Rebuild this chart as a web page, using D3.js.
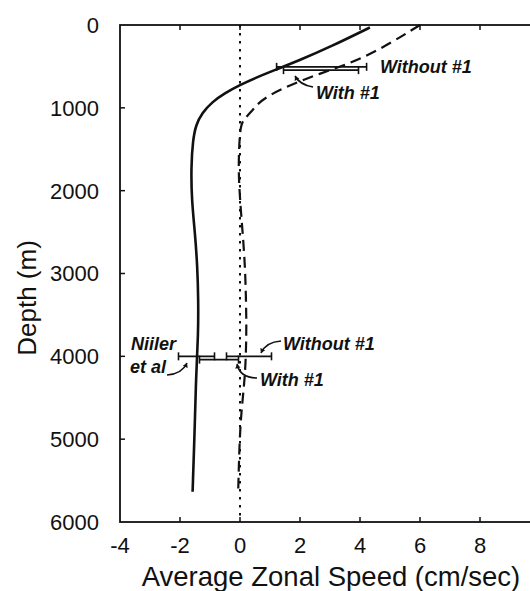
<!DOCTYPE html>
<html>
<head>
<meta charset="utf-8">
<script src="https://cdn.jsdelivr.net/npm/d3@7"></script>
<style>
  html, body { margin: 0; padding: 0; background: #fff; }
  svg { display: block; }
  text { font-family: "Liberation Sans", Arial, sans-serif; fill: #111; }
</style>
</head>
<body>
<svg id="chart" width="530" height="591"></svg>
<script>
// Depth profiles of average zonal speed
const depthWith = [30, 266, 423, 543, 640, 724, 821, 930, 1063, 1207, 1388, 1714, 2113, 2511, 2918, 3320, 3718, 4286, 4769, 5634];
const speedWith = [4.33, 3.0, 2.0, 1.17, 0.5, 0.0, -0.5, -0.93, -1.27, -1.47, -1.57, -1.63, -1.61, -1.5, -1.42, -1.39, -1.39, -1.47, -1.5, -1.58];

const depthWithout = [0, 423, 604, 866, 1026, 1147, 1228, 1711, 2113, 2511, 2918, 3320, 3718, 4286, 4769, 5634];
const speedWithout = [6.0, 4.1, 2.44, 0.78, 0.43, 0.11, 0.0, -0.06, 0.0, 0.09, 0.17, 0.2, 0.22, 0.17, 0.0, -0.06];

// Observed mean ranges (error bars)
const barNames = ["Without #1 (upper)", "With #1 (upper)", "Niiler et al", "Without #1 (deep)", "With #1 (deep)"];
const barDepth = [505, 545, 4000, 4000, 4040];
const barLow   = [1.22, 1.45, -2.05, -0.45, -1.35];
const barHigh  = [4.22, 3.95, -0.85, 1.05, -0.05];

const xTicks = [-4, -2, 0, 2, 4, 6, 8];
const yTicks = [0, 1000, 2000, 3000, 4000, 5000, 6000];

const svg = d3.select("#chart");
const x = d3.scaleLinear().domain([-4, 10]).range([120, 540]);
const y = d3.scaleLinear().domain([0, 6000]).range([25, 522]);

// Frame
svg.append("rect")
  .attr("x", x(-4)).attr("y", y(0))
  .attr("width", x(10) - x(-4)).attr("height", y(6000) - y(0))
  .attr("fill", "none").attr("stroke", "#111").attr("stroke-width", 1.8);

// Inward ticks
const tickLen = 5;
svg.append("g").selectAll("line").data(xTicks.slice(1)).join("line")
  .attr("x1", d => x(d)).attr("x2", d => x(d))
  .attr("y1", y(6000)).attr("y2", y(6000) - tickLen)
  .attr("stroke", "#111").attr("stroke-width", 1.5);
svg.append("g").selectAll("line").data(xTicks.slice(1)).join("line")
  .attr("x1", d => x(d)).attr("x2", d => x(d))
  .attr("y1", y(0)).attr("y2", y(0) + tickLen)
  .attr("stroke", "#111").attr("stroke-width", 1.5);
svg.append("g").selectAll("line").data(yTicks.slice(1, -1)).join("line")
  .attr("x1", x(-4)).attr("x2", x(-4) + tickLen)
  .attr("y1", d => y(d)).attr("y2", d => y(d))
  .attr("stroke", "#111").attr("stroke-width", 1.5);

// Tick labels
svg.append("g").selectAll("text").data(xTicks).join("text")
  .attr("x", d => x(d)).attr("y", 553)
  .attr("text-anchor", "middle").attr("font-size", 22)
  .text(d => String(d));
svg.append("g").selectAll("text").data(yTicks).join("text")
  .attr("x", 99).attr("y", d => y(d)).attr("dy", "0.36em")
  .attr("text-anchor", "end").attr("font-size", 22)
  .text(d => String(d));

// Axis titles
svg.append("text")
  .attr("x", 331).attr("y", 586)
  .attr("text-anchor", "middle").attr("font-size", 27.5)
  .text("Average Zonal Speed (cm/sec)");
svg.append("text")
  .attr("transform", "translate(36,298) rotate(-90)")
  .attr("text-anchor", "middle").attr("font-size", 26)
  .text("Depth (m)");

// Zero reference line
svg.append("line")
  .attr("x1", x(0)).attr("x2", x(0))
  .attr("y1", y(0)).attr("y2", y(6000))
  .attr("stroke", "#111").attr("stroke-width", 2)
  .attr("stroke-dasharray", "2.5,5.5");

const line = d3.line()
  .x(d => x(d[1])).y(d => y(d[0]))
  .curve(d3.curveBasis);

svg.append("path")
  .datum(d3.zip(depthWithout, speedWithout))
  .attr("d", line)
  .attr("fill", "none").attr("stroke", "#111").attr("stroke-width", 2.2)
  .attr("stroke-dasharray", "11,6");

svg.append("path")
  .datum(d3.zip(depthWith, speedWith))
  .attr("d", line)
  .attr("fill", "none").attr("stroke", "#111").attr("stroke-width", 2.6);

// Error bars
const bars = svg.append("g").attr("stroke", "#111").attr("stroke-width", 1.6);
barNames.forEach((name, i) => {
  const yy = y(barDepth[i]);
  bars.append("line").attr("x1", x(barLow[i])).attr("x2", x(barHigh[i])).attr("y1", yy).attr("y2", yy);
  [barLow[i], barHigh[i]].forEach(v => {
    bars.append("line").attr("x1", x(v)).attr("x2", x(v)).attr("y1", yy - 4).attr("y2", yy + 4);
  });
});

// Annotations
const ann = svg.append("g");
function label(txt, tx, ty) {
  ann.append("text").attr("x", tx).attr("y", ty)
    .attr("font-size", 18).attr("font-style", "italic").attr("font-weight", "bold")
    .text(txt);
}
function leader(pts) {
  const p = d3.path();
  p.moveTo(pts[0][0], pts[0][1]);
  p.quadraticCurveTo(pts[1][0], pts[1][1], pts[2][0], pts[2][1]);
  ann.append("path").attr("d", p.toString())
    .attr("fill", "none").attr("stroke", "#111").attr("stroke-width", 1.6);
  // arrowhead at the end point
  const [ex, ey] = pts[2];
  const ang = Math.atan2(ey - pts[1][1], ex - pts[1][0]);
  const s = 5;
  const a1 = ang + Math.PI * 0.82, a2 = ang - Math.PI * 0.82;
  ann.append("path")
    .attr("d", `M${ex},${ey}L${ex + s * Math.cos(a1)},${ey + s * Math.sin(a1)}L${ex + s * Math.cos(a2)},${ey + s * Math.sin(a2)}Z`)
    .attr("fill", "#111");
}

label("Without #1", 380, 73);
label("With #1", 316, 99);
leader([[313, 87], [300, 85], [295, 76]]);

label("Without #1", 283, 350);
leader([[281, 341], [266, 342], [261, 353]]);
label("With #1", 260, 386);
leader([[257, 378], [240, 378], [237, 364]]);
label("Niiler", 131, 350);
label("et al", 130, 373);
leader([[167, 375], [182, 374], [187, 363]]);
</script>
</body>
</html>
